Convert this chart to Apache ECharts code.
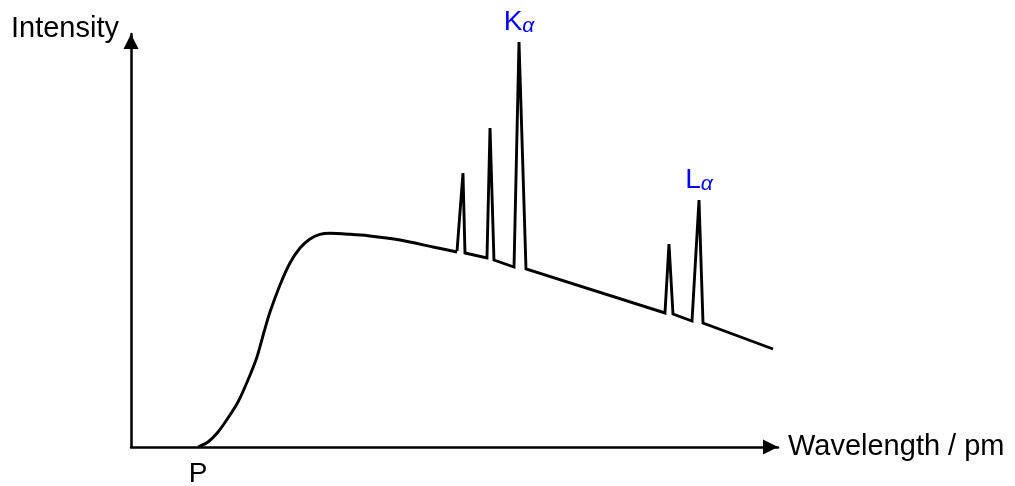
<!DOCTYPE html>
<html>
<head>
    <meta charset="utf-8">
    <script src="https://cdn.jsdelivr.net/npm/echarts@6/dist/echarts.min.js"></script>
</head>
<body style="margin:0;background:#fff;">
<div id="main" style="width: 1015px;height:486px;"></div>
<script type="text/javascript">
    // continuous part of the spectrum, read densely
    const curveX = [10.36, 11.90, 13.45, 14.99, 16.54, 18.08, 19.47, 20.56, 21.48, 23.03, 24.57, 26.12, 27.67, 29.21, 30.76, 33.85, 36.63, 41.58, 46.68, 50.39];
    const curveY = [0, 1.21, 3.63, 7.02, 10.90, 16.22, 21.79, 27.85, 32.69, 39.23, 44.55, 48.18, 50.36, 51.50, 51.74, 51.50, 51.16, 50.12, 48.43, 47.22];

    // characteristic lines, straight segments
    const peakX = [50.39, 51.31, 51.62, 55.02, 55.49, 56.10, 59.20, 59.97, 61.05, 82.53, 83.15, 83.77, 86.71, 87.79, 88.41, 99.23];
    const peakY = [47.46, 66.34, 46.97, 45.76, 77.24, 45.28, 43.58, 98.06, 43.10, 32.45, 49.15, 32.20, 30.51, 59.81, 30.02, 23.73];

    // annotations
    const markX = [10.36, 59.97, 87.79];
    const markY = [0, 98.06, 59.81];
    const markText = ['P', 'K', 'L'];

    const font = "Arial, 'Liberation Sans', sans-serif";
    const myChart = echarts.init(document.getElementById('main'));

    const zip = (xs, ys) => xs.map((x, i) => [x, ys[i]]);

    const axisLine = {
        show: true,
        onZero: false,
        symbol: ['none', 'triangle'],
        symbolSize: [15, 15],
        symbolOffset: [0, -7.5],
        lineStyle: {color: '#000', width: 2.5}
    };

    const option = {
        animation: false,
        backgroundColor: '#fff',
        grid: {left: 131, right: 237, top: 34, bottom: 39},
        xAxis: {
            type: 'value', min: 0, max: 100,
            name: 'Wavelength / pm',
            nameLocation: 'end',
            nameGap: 10,
            nameTextStyle: {color: '#000', fontSize: 29, fontFamily: font},
            axisLine: axisLine,
            axisTick: {show: false},
            axisLabel: {show: false},
            splitLine: {show: false}
        },
        yAxis: {
            type: 'value', min: 0, max: 100,
            name: 'Intensity',
            nameLocation: 'end',
            nameGap: 5,
            nameTextStyle: {color: '#000', fontSize: 29, fontFamily: font, align: 'right', verticalAlign: 'middle', padding: [0, 12, 0, 0]},
            axisLine: axisLine,
            axisTick: {show: false},
            axisLabel: {show: false},
            splitLine: {show: false}
        },
        series: [
            {
                type: 'line', smooth: 0.25, showSymbol: false, silent: true,
                lineStyle: {color: '#000', width: 2.9, join: 'round'},
                data: zip(curveX, curveY)
            },
            {
                type: 'line', smooth: false, showSymbol: false, silent: true,
                lineStyle: {color: '#000', width: 2.9, join: 'miter'},
                data: zip(peakX, peakY)
            },
            {
                type: 'scatter', symbolSize: 1, silent: true,
                itemStyle: {color: 'transparent', opacity: 1},
                data: markX.map((x, i) => ({
                    value: [x, markY[i]],
                    label: i === 0
                        ? {show: true, position: 'bottom', distance: 13, formatter: markText[i], color: '#000', fontSize: 28, fontFamily: font}
                        : {show: true, position: 'top', distance: 5, formatter: '{b|' + markText[i] + '}{s|α}'}
                })),
                label: {
                    rich: {
                        b: {color: '#0000ff', fontSize: 28, fontFamily: font, verticalAlign: 'bottom'},
                        s: {color: '#0000ff', fontSize: 21, fontStyle: 'italic', fontFamily: font, verticalAlign: 'bottom'}
                    }
                }
            }
        ]
    };

    myChart.setOption(option);
</script>
</body>
</html>
